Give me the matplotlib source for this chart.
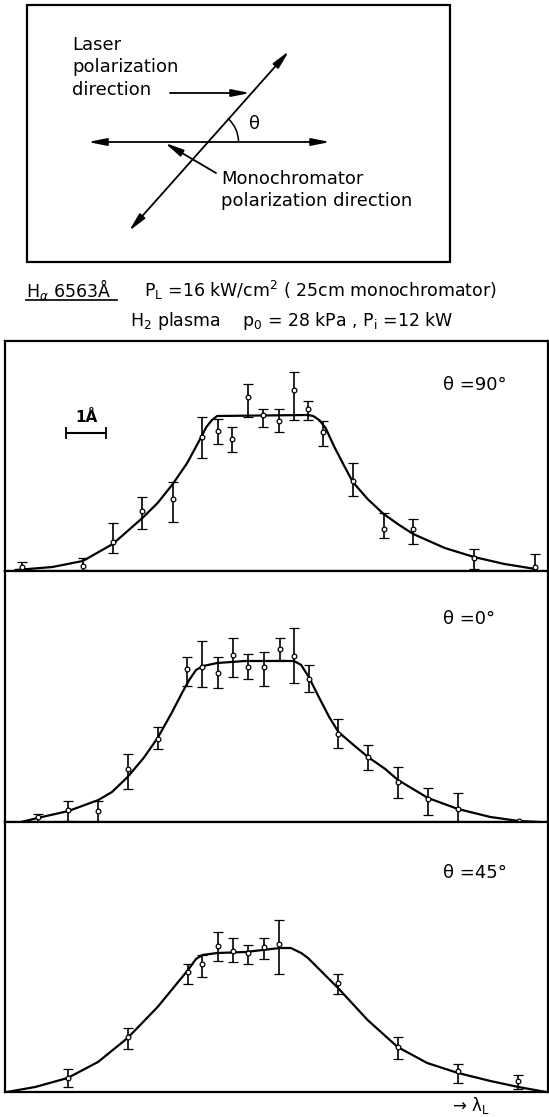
import numpy as np
import matplotlib
matplotlib.use('Agg')
import matplotlib.pyplot as plt
from matplotlib.patches import Arc, FancyArrowPatch, Rectangle

# wavelength offsets in Angstrom, intensity in arbitrary units
p90_x = [-6.36, -4.83, -4.08, -3.34, -2.58, -1.85, -1.46, -1.10, -0.71, -0.32, 0.07, 0.44, 0.80, 1.18, 1.92, 2.69, 3.43, 4.95, 6.47]
p90_y = [0.04, 0.05, 0.29, 0.60, 0.72, 1.34, 1.40, 1.32, 1.74, 1.56, 1.50, 1.81, 1.62, 1.39, 0.90, 0.42, 0.42, 0.13, 0.04]
p90_hi = [0.09, 0.13, 0.48, 0.74, 0.89, 1.54, 1.52, 1.44, 1.87, 1.62, 1.62, 1.99, 1.70, 1.50, 1.08, 0.58, 0.52, 0.22, 0.17]
p90_lo = [0.00, 0.01, 0.18, 0.42, 0.49, 1.13, 1.27, 1.19, 1.54, 1.44, 1.39, 1.51, 1.51, 1.25, 0.75, 0.33, 0.27, 0.02, 0.00]
fit90_x = [-6.51, -5.59, -4.83, -4.08, -3.34, -2.96, -2.58, -2.22, -1.95, -1.74, -1.60, -1.47, 0.80, 0.93, 1.08, 1.24, 1.46, 1.68, 1.92, 2.29, 2.69, 3.08, 3.43, 4.22, 4.95, 5.71, 6.49]
fit90_y = [0.01, 0.04, 0.10, 0.27, 0.53, 0.68, 0.87, 1.08, 1.28, 1.44, 1.51, 1.55, 1.56, 1.55, 1.51, 1.43, 1.24, 1.07, 0.89, 0.72, 0.57, 0.46, 0.37, 0.23, 0.14, 0.07, 0.02]

p0_x = [-5.96, -5.19, -4.44, -3.71, -2.96, -2.22, -1.84, -1.46, -1.08, -0.69, -0.29, 0.09, 0.45, 0.82, 1.56, 2.30, 3.05, 3.80, 4.55, 6.07]
p0_y = [0.05, 0.12, 0.11, 0.53, 0.83, 1.53, 1.55, 1.49, 1.67, 1.55, 1.55, 1.73, 1.66, 1.43, 0.88, 0.65, 0.40, 0.23, 0.13, 0.01]
p0_hi = [0.08, 0.21, 0.21, 0.68, 0.95, 1.65, 1.81, 1.65, 1.84, 1.68, 1.70, 1.84, 1.94, 1.57, 1.03, 0.77, 0.55, 0.34, 0.29, 0.01]
p0_lo = [0.00, 0.01, 0.00, 0.33, 0.73, 1.36, 1.35, 1.34, 1.45, 1.43, 1.36, 1.62, 1.39, 1.30, 0.74, 0.52, 0.24, 0.07, 0.00, 0.01]
fit0_x = [-6.37, -5.96, -5.19, -4.44, -4.10, -3.71, -3.31, -2.96, -2.61, -2.35, -2.17, -2.00, -1.82, -1.47, -0.77, 0.45, 0.63, 0.82, 1.07, 1.33, 1.56, 1.94, 2.30, 2.73, 3.05, 3.80, 4.55, 5.36, 6.07, 6.58]
fit0_y = [0.00, 0.04, 0.11, 0.22, 0.30, 0.45, 0.64, 0.84, 1.09, 1.29, 1.42, 1.52, 1.56, 1.59, 1.61, 1.61, 1.57, 1.45, 1.25, 1.05, 0.90, 0.77, 0.65, 0.53, 0.42, 0.24, 0.13, 0.05, 0.01, 0.00]

p45_x = [-5.21, -3.71, -2.20, -1.84, -1.45, -1.08, -0.69, -0.31, 0.08, 1.55, 3.04, 4.55, 6.06]
p45_y = [0.14, 0.55, 1.20, 1.28, 1.46, 1.41, 1.39, 1.45, 1.48, 1.09, 0.45, 0.21, 0.11]
p45_hi = [0.23, 0.64, 1.28, 1.37, 1.60, 1.54, 1.47, 1.54, 1.72, 1.18, 0.55, 0.28, 0.17]
p45_lo = [0.05, 0.43, 1.08, 1.15, 1.31, 1.30, 1.28, 1.33, 1.18, 0.98, 0.33, 0.09, 0.03]
fit45_x = [-6.73, -6.02, -5.21, -4.45, -3.71, -2.96, -2.20, -2.00, -1.84, -1.47, -0.77, 0.10, 0.37, 0.63, 0.80, 1.15, 1.55, 2.29, 3.04, 3.78, 4.55, 5.36, 6.06, 6.75]
fit45_y = [0.00, 0.05, 0.14, 0.30, 0.54, 0.85, 1.22, 1.33, 1.37, 1.39, 1.40, 1.44, 1.44, 1.39, 1.34, 1.20, 1.04, 0.72, 0.45, 0.29, 0.19, 0.11, 0.05, 0.00]

angle_labels = ['θ =90°', 'θ =0°', 'θ =45°']

W, H = 549, 1117
fig = plt.figure(figsize=(W / 100, H / 100), dpi=100)
fig.patch.set_facecolor('white')

# overlay in pixel coordinates for the sketch and captions
ov = fig.add_axes([0, 0, 1, 1])
ov.set_xlim(0, W)
ov.set_ylim(H, 0)
ov.axis('off')

ov.add_patch(Rectangle((27, 5), 423, 257, fill=False, lw=1.6, ec='black'))

def arrow(p1, p2, style):
    ov.add_patch(FancyArrowPatch(p1, p2, arrowstyle=style, mutation_scale=11,
                                 lw=1.3, color='black', shrinkA=0, shrinkB=0))

both = '<|-|>,head_length=1.0,head_width=0.2'
one = '-|>,head_length=1.0,head_width=0.2'
arrow((129, 231), (289, 51), both)
arrow((88, 142), (330, 142), both)
arrow((170, 93), (250, 93), one)
arrow((216, 173), (165, 143), one)
ov.add_patch(Arc((207, 142), 63, 63, theta1=311.6, theta2=360, lw=1.1, color='black'))
ov.text(254, 124, 'θ', fontsize=13, ha='center', va='center')

dfont = dict(fontsize=13, ha='left', va='center')
ov.text(72, 45, 'Laser', **dfont)
ov.text(72, 67, 'polarization', **dfont)
ov.text(72, 90, 'direction', **dfont)
ov.text(221, 179, 'Monochromator', **dfont)
ov.text(221, 201, 'polarization direction', **dfont)

cfont = dict(fontsize=12.5, ha='left', va='center')
ov.text(26, 290, r'H$_{\alpha}$ 6563Å', **cfont)
ov.plot([26, 117], [300, 300], color='black', lw=1.2)
ov.text(144, 290, r'P$_\mathrm{L}$ =16 kW/cm$^\mathrm{2}$ ( 25cm monochromator)', **cfont)
ov.text(130, 321, r'H$_\mathrm{2}$ plasma    p$_\mathrm{0}$ = 28 kPa , P$_\mathrm{i}$ =12 kW', **cfont)
ov.text(452, 1106, r'→ λ$_\mathrm{L}$', fontsize=12, ha='left', va='center')

# the three spectra
panels = [(341, 571, p90_x, p90_y, p90_lo, p90_hi, fit90_x, fit90_y),
          (571, 822, p0_x, p0_y, p0_lo, p0_hi, fit0_x, fit0_y),
          (822, 1092, p45_x, p45_y, p45_lo, p45_hi, fit45_x, fit45_y)]

axes = []
for i, (top, bot, x, y, lo, hi, fx, fy) in enumerate(panels):
    ax = fig.add_axes([5 / W, (H - bot) / H, 543 / W, (bot - top) / H])
    ax.set_xlim(-6.775, 6.8)
    ax.set_ylim(0, (bot - top) / 100)
    y = np.array(y)
    yerr = [y - np.array(lo), np.array(hi) - y]
    ax.plot(fx, fy, color='black', lw=1.6, zorder=2, solid_joinstyle='round')
    ax.errorbar(x, y, yerr=yerr, fmt='o', ms=3.4, mfc='white', mec='black', mew=0.9,
                ecolor='black', elinewidth=1.2, capsize=3.5, capthick=1.1, zorder=3, clip_on=False)
    ax.text(0.807, 0.81, angle_labels[i], transform=ax.transAxes, fontsize=13,
            ha='left', va='center')
    ax.set_xticks([])
    ax.set_yticks([])
    for s in ax.spines.values():
        s.set_linewidth(1.6)
    axes.append(ax)

# 1 Angstrom scale bar
axes[0].errorbar([-4.74], [1.38], xerr=[0.5], fmt='none', ecolor='black', elinewidth=1.5,
                 capsize=4, capthick=1.3)
axes[0].text(-4.74, 1.53, '1Å', fontsize=11, fontweight='bold', ha='center', va='center')

fig.savefig('out.png', dpi=100)
